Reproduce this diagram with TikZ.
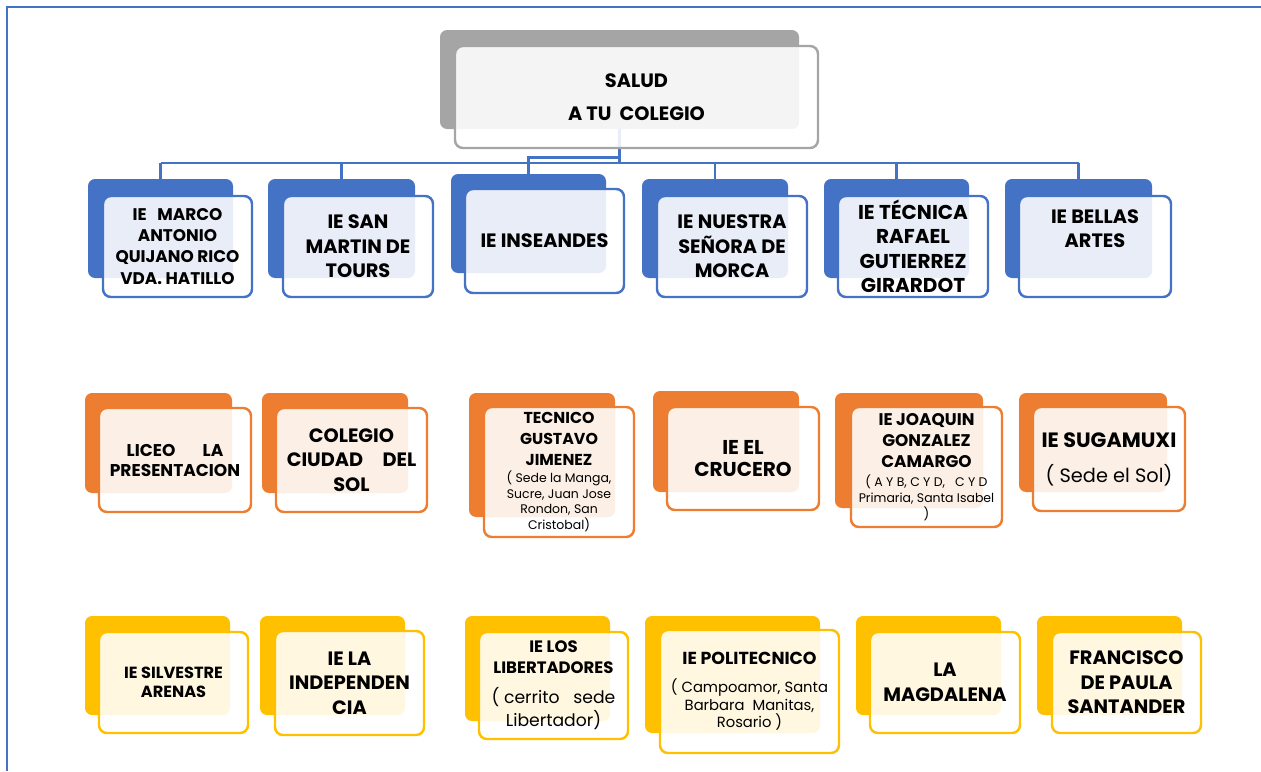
\documentclass[tikz,border=0pt]{standalone}
\usepackage{fontspec}
\setmainfont{Poppins}
\usetikzlibrary{fit,backgrounds}

\definecolor{cblue}{HTML}{4472C4}
\definecolor{corange}{HTML}{ED7D31}
\definecolor{cyellow}{HTML}{FFC000}
\definecolor{cgray}{HTML}{A5A5A5}

\newcommand{\notesize}{\fontsize{7.1}{8.8}\mdseries\selectfont}
\newcommand{\sedesize}{\fontsize{9.8}{12.5}\mdseries\selectfont}
\newcommand{\campsize}{\fontsize{8.4}{10}\mdseries\selectfont}

\tikzset{
  back/.style={fill=#1, rounded corners=4pt, inner sep=0pt},
  front/.style={draw=#1, line width=1.4pt, fill=white, fill opacity=0.88,
    rounded corners=4.5pt, inner sep=0pt},
  boxtext/.style={align=center, inner sep=0pt},
  conn/.style={draw=cblue, line width=1.5pt},
  big/.style={boxtext, font=\bfseries\fontsize{11}{14}\selectfont},
  mid/.style={boxtext, font=\bfseries\fontsize{9.6}{12}\selectfont},
}

\begin{document}
\begin{tikzpicture}[x=0.02cm,y=-0.02cm]
    \useasboundingbox (0,0) rectangle (1261,771);

    % root
    \node[back=cgray, fit={(440,30) (799,129)}] (saludB) {};
    \node[front=cgray, fit={(455,46) (818,148)}] (salud) {};
    \node[boxtext, font=\bfseries\fontsize{11}{19}\selectfont] (saludT) at (salud) {SALUD\\A TU\ \ COLEGIO};

    % first row
    \node[back=cblue, fit={(88,179) (233,278)}] (marcoB) {};
    \node[front=cblue, fit={(103,196) (252,297)}] (marco) {};
    \node[mid] (marcoT) at (marco) {IE\ \ \ MARCO\\ANTONIO\\QUIJANO RICO\\VDA. HATILLO};
    \node[back=cblue, fit={(268,179) (415,278)}] (sanmartinB) {};
    \node[front=cblue, fit={(283,196) (433,297)}] (sanmartin) {};
    \node[big] (sanmartinT) at (sanmartin) {IE SAN\\MARTIN DE\\TOURS};
    \node[back=cblue, fit={(451,174) (606,273)}] (inseandesB) {};
    \node[front=cblue, fit={(465,189) (624,293)}] (inseandes) {};
    \node[big] (inseandesT) at (inseandes) {IE INSEANDES};
    \node[back=cblue, fit={(642,179) (788,278)}] (morcaB) {};
    \node[front=cblue, fit={(657,196) (807,297)}] (morca) {};
    \node[big] (morcaT) at (morca) {IE NUESTRA\\SEÑORA DE\\MORCA};
    \node[back=cblue, fit={(824,179) (969,278)}] (tecnicaB) {};
    \node[front=cblue, fit={(838,196) (988,297)}] (tecnica) {};
    \node[boxtext, font=\bfseries\fontsize{11.4}{13.9}\selectfont] (tecnicaT) at (tecnica) {IE TÉCNICA\\RAFAEL\\GUTIERREZ\\GIRARDOT};
    \node[back=cblue, fit={(1005,179) (1152,278)}] (bellasB) {};
    \node[front=cblue, fit={(1019,196) (1171,297)}] (bellas) {};
    \node[big, yshift=0.36cm] (bellasT) at (bellas) {IE BELLAS\\ARTES};

    % second row
    \node[back=corange, fit={(85,393) (232,493)}] (liceoB) {};
    \node[front=corange, fit={(99,408) (251,512)}] (liceo) {};
    \node[boxtext, font=\bfseries\fontsize{9.7}{11.4}\selectfont] (liceoT) at (liceo) {LICEO\hspace{1.6em}LA\\PRESENTACION};
    \node[back=corange, fit={(262,393) (408,493)}] (ciudadB) {};
    \node[front=corange, fit={(276,408) (427,512)}] (ciudad) {};
    \node[big] (ciudadT) at (ciudad) {COLEGIO\\CIUDAD\hspace{1em}DEL\\SOL};
    \node[back=corange, fit={(469,393) (615,517)}] (gustavoB) {};
    \node[front=corange, fit={(484,407) (634,537)}] (gustavo) {};
    \node[boxtext, font=\bfseries\fontsize{9}{11.8}\selectfont] (gustavoT) at (gustavo) {TECNICO\\GUSTAVO\\JIMENEZ\\[-1.6pt]
      \notesize ( Sede la Manga,\\[-3pt]\notesize Sucre, Juan Jose\\[-3pt]\notesize Rondon, San\\[-3pt]\notesize Cristobal)};
    \node[back=corange, fit={(653,391) (799,492)}] (cruceroB) {};
    \node[front=corange, fit={(667,407) (819,510)}] (crucero) {};
    \node[boxtext, font=\bfseries\fontsize{11.4}{13}\selectfont] (cruceroT) at (crucero) {IE EL\\CRUCERO};
    \node[back=corange, fit={(835,393) (983,508)}] (joaquinB) {};
    \node[front=corange, fit={(851,407) (1002,527)}] (joaquin) {};
    \node[mid] (joaquinT) at (joaquin) {IE JOAQUIN\\GONZALEZ\\CAMARGO\\[-1.2pt]
      \notesize ( A Y B, C Y D,\ \ \ C Y D\\[-3pt]\notesize Primaria, Santa Isabel\\[-3pt]\notesize )};
    \node[back=corange, fit={(1019,393) (1167,492)}] (sugamuxiB) {};
    \node[front=corange, fit={(1033,407) (1185,511)}] (sugamuxi) {};
    \node[boxtext, font=\bfseries\fontsize{11.8}{14}\selectfont] (sugamuxiT) at (sugamuxi) {IE SUGAMUXI\\[6pt]
      \fontsize{11}{14}\mdseries\selectfont ( Sede el Sol)};

    % third row
    \node[back=cyellow, fit={(85,616) (230,715)}] (silvestreB) {};
    \node[front=cyellow, fit={(99,632) (248,733)}] (silvestre) {};
    \node[boxtext, font=\bfseries\fontsize{9.2}{10.8}\selectfont] (silvestreT) at (silvestre) {IE SILVESTRE\\ARENAS};
    \node[back=cyellow, fit={(260,616) (405,715)}] (independenciaB) {};
    \node[front=cyellow, fit={(275,631) (424,735)}] (independencia) {};
    \node[big] (independenciaT) at (independencia) {IE LA\\INDEPENDEN\\CIA};
    \node[back=cyellow, fit={(465,616) (610,721)}] (libertadoresB) {};
    \node[front=cyellow, fit={(479,632) (628,739)}] (libertadores) {};
    \node[boxtext, font=\bfseries\fontsize{9.4}{12}\selectfont] (libertadoresT) at (libertadores) {IE LOS\\LIBERTADORES\\[5pt]
      \sedesize ( cerrito\ \ \ sede\\[1pt]\sedesize Libertador)};
    \node[back=cyellow, fit={(645,616) (820,733)}] (politecnicoB) {};
    \node[front=cyellow, fit={(660,630) (839,753)}] (politecnico) {};
    \node[boxtext, font=\bfseries\fontsize{9.9}{12}\selectfont] (politecnicoT) at (politecnico) {IE POLITECNICO\\[4pt]
      \campsize ( Campoamor, Santa\\[-2pt]\campsize Barbara\ \ Manitas,\\[-2pt]\campsize Rosario )};
    \node[back=cyellow, fit={(856,616) (1001,715)}] (magdalenaB) {};
    \node[front=cyellow, fit={(870,632) (1020,733)}] (magdalena) {};
    \node[big] (magdalenaT) at (magdalena) {LA\\MAGDALENA};
    \node[back=cyellow, fit={(1037,616) (1182,715)}] (santanderB) {};
    \node[front=cyellow, fit={(1052,632) (1201,733)}] (santander) {};
    \node[big] (santanderT) at (santander) {FRANCISCO\\DE PAULA\\SANTANDER};

    \begin{scope}[on background layer]
        % frame
        \draw[cblue, line width=1.5pt] (1261,7) -- (7,7) -- (7,771);
        % connectors
        \coordinate (bus) at (0,163);
        \draw[conn] (saludB.south) -- (saludB.south |- bus);
        \draw[conn] (saludB.south) -- ++(0,28) -| (inseandesB.north);
        \draw[conn] (bus -| marcoB.north) -- (bus -| bellasB.north);
        \draw[conn] (bus -| marcoB.north) -- (marcoB.north);
        \draw[conn] (bus -| sanmartinB.north) -- (sanmartinB.north);
        \draw[conn] (bus -| inseandesB.north) -- (inseandesB.north);
        \draw[conn] (bus -| morcaB.north) -- (morcaB.north);
        \draw[conn] (bus -| tecnicaB.north) -- (tecnicaB.north);
        \draw[conn] (bus -| bellasB.north) -- (bellasB.north);
    \end{scope}
\end{tikzpicture}
\end{document}
